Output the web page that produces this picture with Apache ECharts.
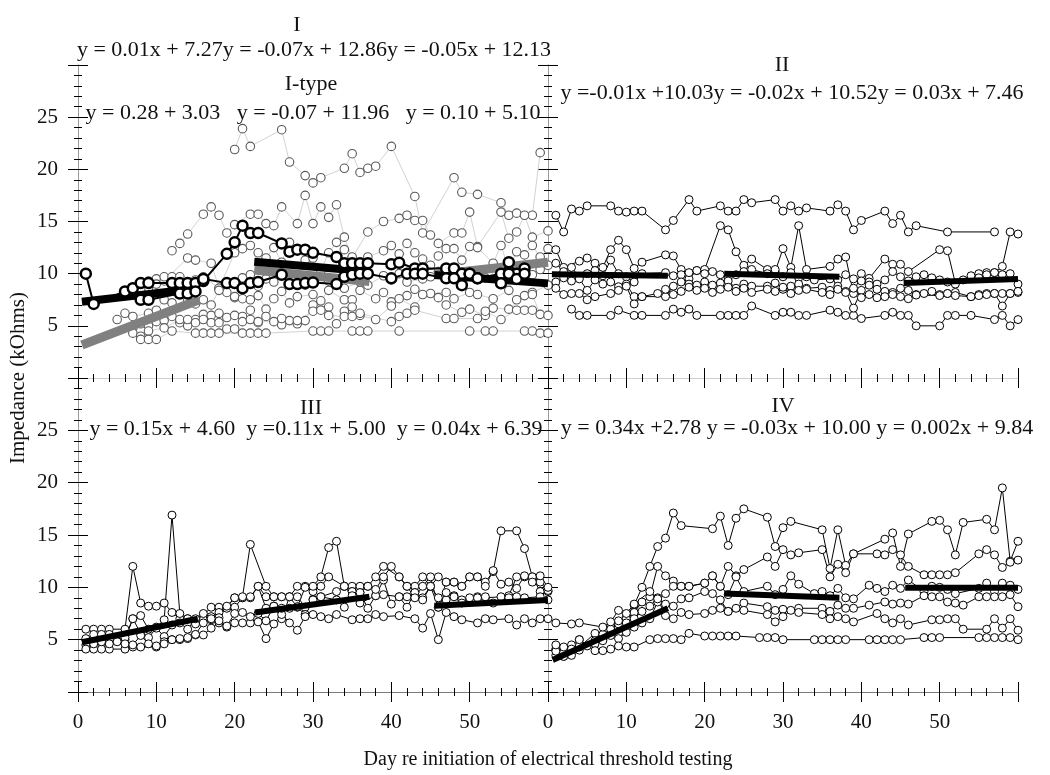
<!DOCTYPE html>
<html>
<head>
<meta charset="utf-8">
<script src="https://cdn.jsdelivr.net/npm/echarts@6/dist/echarts.min.js"></script>
<style>
  html, body { margin: 0; padding: 0; background: #fff; }
  #chart { width: 1050px; height: 775px; }
</style>
</head>
<body>
<div id="chart"></div>
<script>
// ---- data: [day, impedance kOhms] ----
// Panel I, grey (I-type) animals
const gI1 = [[20,21.9],[21,23.9],[22,22.2],[26,23.8],[27,20.7],[29,19.4],[30,18.7],[31,19.2],[34,20.1],[35,21.5],[36,19.7],[37,20.1],[38,20.3],[40,22.2],[43,17.4],[44,13.9],[48,19.2],[49,17.8],[51,17.6],[54,16.8],[55,15.6],[56,15.8],[58,15.6],[59,21.6]];
const gI2 = [[12,12.2],[13,12.9],[14,13.8],[16,15.7],[17,16.4],[18,15.6],[19,13.9],[20,14.7],[22,15.7],[23,15.7],[24,14.8],[25,14.6],[26,16.4],[28,14.8],[29,17.5],[30,14.8],[31,16.4],[32,15.4],[33,16.6],[34,13.5],[35,11.5],[37,14.0],[39,15.0],[41,15.3],[42,15.6],[43,15.1],[44,15.1],[45,13.7],[46,12.9],[48,13.9],[49,13.9],[50,15.9],[51,12.6],[54,15.9],[55,13.4],[56,14.0],[57,15.6],[58,13.5],[60,14.1]];
const gI3 = [[9,8.6],[10,9.5],[11,9.3],[14,11.5],[15,11.3],[17,11.0],[18,8.6],[20,12.0],[21,12.4],[22,12.7],[23,12.0],[24,11.5],[25,12.5],[26,11.1],[27,13.0],[28,12.3],[29,11.3],[30,11.5],[31,10.3],[32,12.0],[33,13.0],[34,12.3],[35,11.6],[36,10.4],[37,11.6],[39,12.2],[40,12.7],[41,11.9],[42,12.9],[43,12.0],[44,11.4],[45,10.8],[46,11.7],[47,12.4],[48,12.4],[49,11.3],[50,12.6],[51,12.5],[53,11.0],[54,12.7],[55,10.4],[56,12.1],[57,11.8],[58,12.7],[59,11.6],[60,12.4]];
const gI4 = [[8,8.5],[9,9.3],[10,9.0],[11,9.7],[12,9.7],[13,9.7],[14,9.0],[15,9.4],[16,9.7],[18,8.6],[19,8.2],[20,7.7],[21,9.6],[22,9.9],[23,8.8],[24,9.5],[25,9.2],[26,9.9],[28,9.0],[29,8.9],[30,9.6],[32,9.3],[33,9.0],[34,8.6],[36,9.2],[37,8.9],[39,9.8],[40,9.4],[41,10.0],[42,9.2],[44,9.5],[45,9.7],[46,10.2],[48,9.6],[49,9.9],[51,10.0],[52,9.6],[54,10.5],[55,9.6],[57,10.2],[58,9.9],[59,10.4],[60,10.8]];
const gI5 = [[5,5.6],[6,6.2],[7,5.9],[9,6.2],[10,6.5],[11,7.5],[12,7.2],[13,8.0],[14,7.4],[15,7.1],[16,7.5],[17,7.0],[18,8.4],[20,7.8],[21,7.6],[22,7.5],[23,7.9],[24,6.6],[25,7.6],[26,8.3],[27,7.2],[28,7.8],[30,8.0],[31,7.4],[32,8.4],[34,7.5],[35,7.5],[36,8.4],[38,7.6],[39,8.2],[40,7.3],[42,7.9],[43,8.5],[45,8.1],[47,8.2],[48,7.6],[50,8.2],[51,8.0],[53,7.6],[55,8.4],[56,7.5],[58,8.2],[60,8.9]];
const gI6 = [[7,4.8],[8,5.2],[9,5.0],[10,5.4],[11,5.5],[12,5.9],[13,5.3],[14,5.0],[15,5.6],[16,6.1],[17,6.0],[18,6.2],[19,5.8],[20,6.0],[21,5.9],[22,6.5],[23,5.3],[24,5.9],[26,5.1],[27,5.5],[28,5.2],[29,5.5],[30,7.0],[32,6.8],[33,5.2],[34,6.4],[35,6.8],[36,6.0],[38,5.6],[40,6.9],[41,7.6],[43,6.8],[44,8.0],[46,7.7],[47,7.0],[49,6.3],[50,6.6],[52,6.0],[53,6.7],[55,6.6],[57,7.9],[58,8.0],[59,6.1]];
const gI7 = [[7,4.3],[8,4.0],[9,4.5],[11,4.8],[13,5.6],[14,5.6],[15,5.3],[16,5.6],[17,5.3],[18,5.3],[19,4.7],[20,4.7],[21,5.4],[22,5.6],[23,5.4],[25,5.4],[26,5.7],[28,5.5],[30,6.4],[31,6.5],[32,6.0],[34,5.9],[35,5.9],[36,6.2],[40,5.4],[41,5.9],[42,6.2],[43,6.5],[47,5.7],[48,5.7],[51,5.7],[52,6.4],[54,5.6],[56,6.5],[57,6.5],[58,6.5],[60,6.0]];
const gI8 = [[8,3.7],[9,3.7],[10,3.7],[12,4.5],[15,4.3],[16,4.3],[17,4.3],[18,4.3],[21,4.3],[22,4.3],[23,4.3],[24,4.3],[30,4.5],[31,4.5],[32,4.5],[35,4.5],[36,4.5],[37,4.5],[41,4.5],[50,4.5],[52,4.5],[53,4.5],[57,4.5],[58,4.5],[59,4.3],[60,4.3]];
// Panel I, bold animals
const boldA = [[1,10.0],[2,7.1],[6,8.3],[7,8.6],[8,9.1],[9,9.1],[12,9.1],[13,9.1],[14,9.1],[15,9.1],[16,9.3],[19,11.9],[20,13.0],[21,14.6],[22,13.9],[23,13.9],[26,12.9],[27,12.1],[28,12.3],[29,12.3],[30,12.0],[33,11.6],[34,11.0],[35,11.0],[36,11.0],[37,11.0],[40,10.9],[41,11.05],[43,10.5],[44,10.5],[47,10.5],[48,10.5],[49,10.0],[50,10.0],[51,9.55],[54,10.0],[55,11.1],[56,10.0],[57,10.5]];
const boldB = [[8,7.5],[9,7.5],[13,8.1],[14,8.1],[15,8.3],[16,9.5],[19,9.1],[20,9.1],[21,8.6],[22,9.1],[23,9.2],[26,9.9],[27,9.0],[28,9.0],[29,9.1],[30,9.15],[33,9.0],[34,9.7],[35,9.9],[36,10.0],[37,10.0],[40,9.55],[42,10.0],[43,10.0],[44,10.0],[47,9.55],[48,9.55],[49,8.9],[50,10.0],[51,9.55],[54,9.07],[55,10.0],[56,9.5],[57,10.0]];

// Panel II
const pIIa = [[1,15.6],[2,14.0],[3,16.2],[4,16.0],[5,16.5],[8,16.5],[9,16.0],[10,15.9],[11,16.0],[12,16.0],[15,14.2],[16,15.1],[18,17.1],[19,16.0],[22,16.5],[23,16.0],[24,16.0],[25,17.1],[26,16.8],[29,17.1],[30,16.0],[31,16.5],[32,16.0],[33,16.3],[36,16.0],[37,16.6],[38,16.0],[39,14.2],[40,15.1],[43,16.0],[44,14.8],[45,15.6],[46,14.0],[47,14.6],[51,14.0],[57,14.0]];
const pIIb = [[3,6.6],[4,6.0],[5,6.0],[8,6.0],[9,6.5],[11,6.0],[12,6.0],[15,6.0],[16,6.6],[17,6.3],[18,6.6],[19,6.0],[22,6.0],[23,6.0],[24,6.0],[25,6.0],[26,6.9],[29,6.0],[30,6.3],[31,6.3],[32,6.0],[33,6.0],[36,6.5],[37,6.3],[38,6.0],[39,6.0],[40,5.7],[43,6.0],[44,6.3],[45,6.0],[46,6.0],[47,5.0],[50,5.0],[51,6.0],[52,6.0],[54,6.0],[57,5.6],[58,6.0],[59,5.0],[60,5.6]];
const pIIc = [[1,12.3],[2,10.6],[4,11.2],[5,11.5],[6,11.0],[7,10.6],[8,12.3],[9,13.2],[10,12.3],[11,10.5],[12,11.1],[15,11.8],[16,11.7],[17,10.4],[18,9.5],[19,10.3],[20,10.4],[22,14.6],[23,14.2],[24,12.1],[25,10.8],[26,11.4],[28,10.4],[29,10.2],[30,12.4],[31,10.6],[32,14.6],[33,10.4],[36,10.7],[37,11.4],[38,11.6],[39,8.1],[40,10.0],[41,9.55],[43,11.4],[44,10.9],[45,10.9],[46,10.2],[50,12.3],[51,12.2],[52,9.1],[54,9.55],[55,10.0],[56,10.1],[57,10.1],[58,10.7],[59,14.0],[60,13.8]];
const pIId = [[1,11.0],[2,10.2],[3,10.6],[4,9.7],[5,10.0],[6,10.3],[7,9.8],[8,11.3],[9,10.0],[10,9.7],[11,9.2],[12,10.0],[15,10.1],[16,9.8],[17,9.9],[18,10.1],[19,10.3],[20,10.0],[21,10.2],[22,9.9],[23,9.6],[24,9.9],[25,10.2],[26,10.4],[28,10.0],[29,10.4],[30,9.7],[31,10.1],[32,9.6],[33,9.7],[34,9.4],[36,9.5],[37,9.4],[38,9.9],[39,9.5],[40,9.3],[41,9.2],[42,9.0],[43,9.4],[44,10.2],[45,9.7],[46,9.3],[47,9.7],[48,9.9],[49,9.6],[50,9.4],[51,9.2],[52,9.0],[53,9.4],[54,9.8],[55,9.6],[56,9.9],[57,10.1],[58,9.9],[59,10.0],[60,9.0]];
const pIIe = [[1,9.2],[2,9.6],[3,9.3],[4,9.5],[5,8.4],[6,9.4],[7,9.0],[8,9.2],[9,8.75],[10,9.0],[11,7.8],[12,7.8],[15,7.8],[16,8.8],[17,9.2],[18,9.0],[19,8.9],[20,9.2],[21,8.9],[22,9.1],[23,9.3],[24,8.6],[25,9.0],[26,8.8],[28,8.8],[29,9.1],[30,8.5],[31,8.8],[32,9.0],[33,8.6],[35,8.7],[36,8.4],[37,8.8],[38,8.3],[39,6.7],[40,8.4],[41,8.9],[42,8.5],[43,8.3],[44,8.2],[45,8.6],[46,8.4],[47,8.0],[48,8.1],[49,8.3],[50,8.0],[51,8.1],[52,8.2],[54,7.8],[55,8.0],[56,8.1],[57,8.1],[58,8.1],[59,8.1],[60,8.2]];
const pIIf = [[1,8.6],[2,8.0],[3,8.1],[4,8.1],[5,7.5],[6,7.8],[8,8.1],[9,8.4],[10,8.8],[11,7.1],[12,7.8],[14,8.1],[15,8.5],[16,8.0],[17,8.3],[18,8.7],[19,8.4],[20,8.6],[21,8.2],[22,8.5],[23,8.7],[24,8.3],[25,8.6],[26,8.2],[28,8.5],[29,8.3],[30,8.7],[31,8.1],[32,8.4],[33,8.5],[35,8.2],[36,8.0],[37,8.5],[38,8.2],[39,8.6],[40,7.7],[41,8.0],[42,7.7],[43,7.8],[44,8.0],[45,7.8],[46,7.6],[47,7.95],[50,7.9],[51,8.1],[52,7.9],[54,7.8],[55,7.9],[56,8.0],[57,8.1],[58,6.9],[59,8.1],[60,8.3]];

// Panel III
const pIIIa = [[1,6.0],[2,6.0],[3,6.0],[4,6.0],[6,6.0],[7,12.0],[8,8.5],[9,8.2],[10,8.2],[11,8.5],[12,7.6],[13,7.0],[14,7.0],[15,6.6],[16,7.3],[17,8.1],[18,8.1],[19,8.1],[20,9.0],[21,9.0],[22,9.0],[23,10.1],[24,9.1],[25,9.1],[26,9.1],[27,9.1],[28,10.1],[29,10.1],[30,9.6],[31,10.1],[32,11.0],[34,10.1],[35,10.1],[36,10.1],[37,10.1],[38,11.0],[39,12.0],[41,11.0],[42,10.1],[43,10.1],[44,11.0],[45,10.1],[46,11.0],[47,10.5],[48,10.5],[49,10.1],[50,11.0],[51,11.0],[52,10.5],[53,11.5],[54,15.4],[56,15.4],[57,13.7],[58,11.0],[59,10.5],[60,9.6]];
const pIIIb = [[1,5.0],[2,5.5],[3,5.5],[4,5.5],[6,5.0],[7,7.0],[8,7.3],[9,6.0],[10,6.2],[11,6.9],[12,16.9],[13,7.5],[14,7.0],[15,6.5],[16,6.9],[17,7.2],[18,7.6],[19,8.0],[20,8.1],[21,9.0],[22,9.1],[23,10.1],[24,8.0],[25,8.2],[26,7.0],[27,9.1],[28,9.1],[29,8.1],[30,8.85],[31,9.1],[33,9.6],[34,10.1],[35,9.6],[36,9.5],[37,8.0],[38,9.2],[39,10.7],[40,8.4],[41,9.1],[42,9.1],[43,9.5],[44,9.0],[45,10.1],[46,9.0],[47,8.8],[48,9.2],[49,8.8],[50,9.0],[51,9.1],[52,9.0],[54,9.1],[55,9.2],[56,11.0],[57,11.0],[58,11.0],[59,9.6],[60,9.7]];
const pIIIc = [[1,4.5],[2,4.8],[3,4.6],[4,5.0],[5,4.8],[6,5.2],[7,7.0],[8,5.6],[9,5.2],[10,6.1],[11,5.3],[12,6.4],[13,6.6],[14,6.0],[15,7.0],[16,7.5],[17,6.9],[18,7.1],[19,8.2],[20,9.0],[21,9.1],[22,14.1],[24,10.1],[25,9.1],[26,9.1],[27,9.1],[28,8.1],[29,7.4],[30,8.8],[31,9.1],[33,8.8],[34,8.1],[35,9.6],[36,8.5],[38,9.2],[39,9.3],[41,9.1],[42,8.1],[43,9.5],[44,8.8],[45,10.1],[46,8.1],[47,9.5],[48,9.1],[49,8.5],[51,9.0],[52,9.1],[53,8.5],[55,9.0],[56,9.1],[57,9.0],[59,9.1],[60,8.8]];
const pIIId = [[1,4.1],[2,4.1],[3,4.1],[4,4.1],[6,4.1],[7,4.3],[8,4.3],[10,4.3],[11,4.8],[12,5.0],[13,5.0],[14,5.1],[15,5.45],[16,5.45],[17,6.1],[18,6.6],[19,6.2],[20,6.6],[21,6.6],[22,6.6],[23,6.7],[24,5.1],[25,6.5],[26,7.4],[27,6.6],[28,5.9],[29,7.2],[30,7.4],[31,7.2],[32,7.0],[33,7.4],[35,6.9],[36,7.0],[37,7.0],[38,7.4],[39,7.2],[41,7.3],[43,7.0],[44,6.1],[45,7.5],[46,5.0],[47,7.6],[48,7.2],[49,6.9],[51,6.6],[52,7.0],[53,6.9],[55,7.0],[56,6.4],[57,7.0],[58,6.6],[59,7.0],[60,7.0]];
const pIIIe = [[1,5.1],[2,4.6],[3,4.8],[4,4.6],[6,4.6],[7,4.5],[8,5.4],[9,4.6],[10,4.4],[11,4.6],[12,5.0],[13,5.1],[14,5.2],[15,5.5],[16,6.6],[17,7.0],[18,6.8],[19,6.3],[20,7.5],[21,7.6],[22,7.2],[23,7.5],[24,6.8],[25,8.2],[26,8.0],[27,8.0],[28,8.15],[29,10.0],[30,10.1],[31,11.0],[32,13.8],[33,14.4],[34,10.1],[35,9.2],[36,9.5],[37,10.1],[38,9.8],[39,11.0],[40,12.0],[41,11.0],[42,10.1],[43,9.0],[44,10.1],[45,11.0],[46,8.1],[47,10.5],[48,10.5],[49,10.1],[50,11.0],[51,11.0],[52,10.1],[53,11.6],[54,10.3],[55,10.5],[56,9.9],[57,11.1],[58,10.5],[59,11.1],[60,10.0]];

// Panel IV
const pIVa = [[1,4.1],[2,3.6],[3,3.8],[4,4.0],[6,4.8],[7,5.3],[8,6.1],[9,6.5],[10,7.2],[11,8.3],[12,10.0],[13,12.0],[14,13.9],[15,14.7],[16,17.1],[17,15.9],[21,15.6],[22,16.8],[23,14.0],[24,16.6],[25,17.5],[28,16.7],[29,13.9],[30,15.7],[31,16.3],[35,15.5],[36,11.8],[37,15.5],[38,12.1],[39,13.2],[43,14.6],[44,15.2],[45,12.0],[46,15.1],[49,16.3],[50,16.4],[51,15.5],[52,13.1],[53,16.2],[56,16.5],[57,15.5],[58,19.5],[59,12.5],[60,14.4]];
const pIVb = [[1,3.5],[2,3.4],[3,3.9],[4,4.3],[6,5.6],[7,5.0],[8,6.3],[9,6.8],[10,7.0],[11,7.6],[12,8.6],[13,9.1],[14,12.0],[15,11.1],[16,10.6],[17,10.1],[18,10.1],[20,10.4],[21,11.1],[22,10.1],[23,12.0],[24,11.1],[25,11.7],[28,12.9],[29,12.0],[30,13.6],[31,13.1],[32,13.3],[35,13.6],[36,11.0],[37,12.2],[38,11.4],[39,13.2],[42,13.2],[43,13.1],[44,13.6],[45,13.1],[46,12.0],[48,11.2],[49,11.2],[50,11.2],[51,11.2],[52,11.4],[55,13.2],[56,13.6],[57,13.1],[58,11.9],[59,12.4],[60,12.6]];
const pIVc = [[1,4.0],[2,3.8],[3,4.5],[4,5.0],[5,4.4],[6,4.9],[7,5.5],[8,6.0],[9,5.6],[10,6.6],[11,7.0],[12,7.7],[13,8.2],[14,9.0],[15,9.4],[16,10.1],[17,10.1],[18,10.1],[20,10.4],[21,11.1],[22,10.1],[23,9.3],[24,11.0],[25,9.6],[28,10.1],[29,9.3],[30,9.8],[31,11.1],[32,10.3],[34,9.4],[35,9.6],[36,9.2],[37,9.9],[38,9.0],[39,8.9],[41,10.2],[42,9.9],[43,9.6],[44,10.2],[45,9.9],[46,10.7],[48,9.6],[49,10.1],[50,10.0],[51,9.8],[52,9.4],[55,9.9],[56,10.4],[57,9.6],[58,10.4],[59,10.2],[60,9.8]];
const pIVd = [[1,3.9],[2,4.3],[3,4.1],[4,4.4],[6,4.6],[7,4.9],[8,5.4],[9,5.1],[10,5.7],[11,6.2],[12,6.6],[13,7.0],[14,8.6],[15,8.4],[16,8.2],[17,8.9],[18,9.0],[20,9.6],[21,9.4],[22,8.8],[23,7.7],[24,8.0],[25,8.5],[28,8.15],[29,7.8],[30,7.9],[32,8.0],[35,8.0],[36,7.7],[37,8.3],[38,8.0],[39,8.0],[41,8.3],[43,8.6],[44,8.4],[45,8.5],[46,8.4],[48,9.2],[49,9.1],[50,9.1],[51,8.6],[52,8.5],[53,8.3],[55,9.1],[56,9.1],[57,9.1],[58,9.1],[59,9.3],[60,8.15]];
const pIVe = [[1,6.6],[3,6.5],[4,6.6],[7,6.2],[8,6.7],[9,7.8],[10,7.5],[11,8.4],[13,9.6],[14,8.9],[15,7.3],[16,7.0],[17,7.6],[18,7.4],[20,7.5],[21,7.8],[22,8.0],[23,7.7],[25,7.8],[28,7.4],[29,6.7],[30,7.2],[31,7.8],[32,7.6],[35,7.4],[36,7.0],[37,7.2],[38,7.0],[39,6.7],[42,7.5],[43,7.0],[44,6.6],[45,7.0],[46,6.4],[49,6.9],[50,6.9],[51,7.0],[52,7.0],[53,6.0],[56,6.0],[57,7.0],[58,6.1],[59,7.0],[60,5.9]];
const pIVf = [[1,4.5],[2,3.4],[3,3.5],[4,5.0],[6,3.95],[7,3.95],[8,4.1],[9,4.4],[10,4.3],[11,4.3],[13,5.0],[14,5.1],[15,5.1],[16,5.1],[17,5.0],[18,5.6],[20,5.35],[21,5.35],[22,5.35],[23,5.35],[24,5.35],[27,5.2],[28,5.2],[29,5.2],[30,5.0],[34,5.0],[35,5.0],[36,5.0],[37,5.0],[38,5.0],[41,5.0],[42,5.0],[43,5.0],[44,5.0],[45,5.0],[48,5.2],[49,5.2],[50,5.2],[55,5.2],[56,5.2],[57,5.2],[58,5.2],[59,5.2],[60,5.0]];

// regression segments (start, end) per phase
const regI     = [[[0.5,7.3],[15.5,8.6]], [[22.5,11.15],[37.2,10.2]], [[45.5,9.87],[60,9.07]]];
const regItype = [[[0.5,3.16],[15.5,7.5]], [[22.5,10.35],[37.2,9.25]], [[45.5,9.9],[60,11.1]]];
const regII    = [[[0.5,9.95],[15.3,9.8]], [[22.5,10.0],[37.2,9.7]], [[45.4,9.1],[60,9.5]]];
const regIII   = [[[0.5,4.75],[15.3,7.0]], [[22.6,7.6],[37.2,9.1]], [[45.5,8.25],[60,8.8]]];
const regIV    = [[[0.6,3.06],[15.3,8.0]], [[22.5,9.4],[37.2,9.0]], [[45.6,9.96],[60,9.96]]];

const panelTitles = ["I", "II", "III", "IV"];
const eqLines = [
  "y = 0.01x + 7.27y = -0.07x + 12.86y = -0.05x + 12.13",
  "y = 0.28 + 3.03   y = -0.07 + 11.96   y = 0.10 + 5.10",
  "y =-0.01x +10.03y = -0.02x + 10.52y = 0.03x + 7.46",
  "y = 0.15x + 4.60  y =0.11x + 5.00  y = 0.04x + 6.39",
  "y = 0.34x +2.78 y = -0.03x + 10.00 y = 0.002x + 9.84"
];

const FONT = '"Liberation Serif", "Times New Roman", serif';

const grids = [
  { left: 78,  top: 65,  width: 470, height: 313 },
  { left: 548, top: 65,  width: 470, height: 313 },
  { left: 78,  top: 378, width: 470, height: 314 },
  { left: 548, top: 378, width: 470, height: 314 }
];

// each grid gets two axes per dimension so ticks can cross the axis line
function xAx(g, inside, labels, lineColor) {
  return {
    type: 'value', gridIndex: g, min: 0, max: 60, interval: 10, position: 'bottom',
    axisLine: { show: true, onZero: false, lineStyle: { color: lineColor, width: 1 } },
    axisTick: { show: true, inside: inside, length: 10, lineStyle: { color: '#000', width: 1 } },
    minorTick: { show: true, splitNumber: 5, length: 4, lineStyle: { color: '#000', width: 1 } },
    splitLine: { show: false },
    axisLabel: { show: labels && !inside, showMaxLabel: false, margin: 20,
                 fontFamily: FONT, fontSize: 21, color: '#111' }
  };
}
function yAx(g, inside, labels) {
  return {
    type: 'value', gridIndex: g, min: 0, max: 30, interval: 5, position: 'left',
    axisLine: { show: true, onZero: false, lineStyle: { color: '#9a9a9a', width: 1 } },
    axisTick: { show: true, inside: inside, length: 10, lineStyle: { color: '#000', width: 1 } },
    minorTick: { show: true, splitNumber: 5, length: 4, lineStyle: { color: '#000', width: 1 } },
    splitLine: { show: false },
    axisLabel: { show: labels && !inside, showMinLabel: false, showMaxLabel: false, margin: 20,
                 fontFamily: FONT, fontSize: 21, color: '#111' }
  };
}

const xAxes = [], yAxes = [];
[0, 1, 2, 3].forEach(g => {
  const bottom = g >= 2;
  const col = bottom ? '#7a7a7a' : '#cfcfcf';
  xAxes.push(xAx(g, false, bottom, col), xAx(g, true, bottom, col));
  yAxes.push(yAx(g, false, g % 2 === 0), yAx(g, true, g % 2 === 0));
});

function pts(data, g, opts) {
  const o = Object.assign({ size: 8, edge: '#000', edgeW: 1, line: '#000', lineW: 1, z: 2 }, opts || {});
  return {
    type: 'line', xAxisIndex: 2 * g, yAxisIndex: 2 * g, data: data,
    symbol: 'circle', symbolSize: o.size, showSymbol: true, showAllSymbol: true,
    lineStyle: { color: o.line, width: o.lineW },
    itemStyle: { color: '#fff', borderColor: o.edge, borderWidth: o.edgeW },
    emphasis: { disabled: true }, z: o.z, silent: true
  };
}
function regs(segs, g, color, width, z) {
  return segs.map(s => ({
    type: 'line', xAxisIndex: 2 * g, yAxisIndex: 2 * g, data: s,
    symbol: 'none', lineStyle: { color: color, width: width, cap: 'butt' },
    emphasis: { disabled: true }, z: z, silent: true
  }));
}

const greyOpts = { size: 8.5, edge: '#5a5a5a', edgeW: 1.1, line: '#d2d2d2', lineW: 1, z: 2 };
const boldOpts = { size: 10, edge: '#000', edgeW: 2.5, line: '#000', lineW: 2, z: 6 };

const series = [].concat(
  [gI1, gI2, gI3, gI4, gI5, gI6, gI7, gI8].map(d => pts(d, 0, greyOpts)),
  regs(regItype, 0, '#808080', 9, 3),
  regs(regI, 0, '#000', 8, 4),
  [boldA, boldB].map(d => pts(d, 0, boldOpts)),
  [pIIa, pIIb, pIIc, pIId, pIIe, pIIf].map(d => pts(d, 1)),
  regs(regII, 1, '#000', 6, 4),
  [pIIIa, pIIIb, pIIIc, pIIId, pIIIe].map(d => pts(d, 2)),
  regs(regIII, 2, '#000', 6, 4),
  [pIVa, pIVb, pIVc, pIVd, pIVe, pIVf].map(d => pts(d, 3)),
  regs(regIV, 3, '#000', 6, 4)
);

function txt(text, x, y, size, opts) {
  return Object.assign({
    type: 'text', x: x, y: y, silent: true, z: 100,
    style: { text: text, font: size + 'px ' + FONT, fill: '#111',
             textAlign: 'center', textVerticalAlign: 'middle' }
  }, opts || {});
}

const graphics = [
  txt(panelTitles[0], 297, 25, 22),
  txt(eqLines[0], 314, 50, 22),
  txt("I-type", 311, 84, 22),
  txt(eqLines[1], 313, 113, 22),
  txt(panelTitles[1], 782, 65, 22),
  txt(eqLines[2], 792, 93, 22),
  txt(panelTitles[2], 311, 408, 22),
  txt(eqLines[3], 316, 429, 22),
  txt(panelTitles[3], 783, 406, 22),
  txt(eqLines[4], 797, 428, 22),
  txt("Day re initiation of electrical threshold testing", 548, 760, 20),
  txt("Impedance (kOhms)", 18, 378, 21, { rotation: Math.PI / 2 })
];

const chart = echarts.init(document.getElementById('chart'), null, { renderer: 'canvas' });
chart.setOption({
  animation: false,
  backgroundColor: '#fff',
  grid: grids,
  xAxis: xAxes,
  yAxis: yAxes,
  series: series,
  graphic: graphics
});
</script>
</body>
</html>
